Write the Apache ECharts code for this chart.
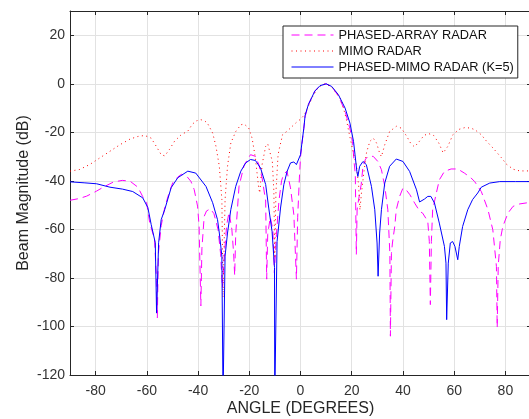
<!DOCTYPE html>
<html>
<head>
<meta charset="utf-8">
<script src="https://cdn.jsdelivr.net/npm/echarts@6/dist/echarts.min.js"></script>
<style>
html,body{margin:0;padding:0;background:#fff;}
#chart{width:529px;height:419px;}
</style>
</head>
<body>
<div id="chart"></div>
<script>
// Series names (legend order)
const seriesNames = ['PHASED-ARRAY RADAR', 'MIMO RADAR', 'PHASED-MIMO RADAR (K=5)'];

// Angle (degrees), beam magnitude (dB)
const phasedArray = [
[-90,-48],[-86.5,-47.3],[-83.5,-46.3],[-79.6,-44.2],[-77,-42.6],[-73.1,-40.5],[-69.6,-39.8],[-66.6,-40.1],[-63.5,-42.6],[-61.6,-46.5],[-60.1,-48.9],[-58.9,-57.2],[-57,-64],[-56.2,-81],[-55.9,-96.5],[-55.5,-70],[-54.4,-58.5],[-53,-51],[-51.7,-46.3],[-49.9,-40.8],[-47.9,-38.4],[-46.5,-37.3],[-44.5,-38],[-42.8,-40.2],[-41.5,-43.6],[-40.2,-50.4],[-39.6,-58.6],[-38.9,-91.5],[-38.5,-68],[-37.6,-54.6],[-36.7,-52.4],[-35.2,-51.5],[-33.8,-53.5],[-32.2,-60],[-31.2,-70],[-30.5,-84],[-29.7,-70],[-28.8,-58],[-27.9,-53],[-26.8,-60],[-26.1,-70],[-25.7,-79],[-25.3,-62],[-24,-42.2],[-22,-33.5],[-19.5,-29.2],[-17.6,-29.9],[-16.3,-33.2],[-15,-38.8],[-13.6,-48.3],[-13.2,-80.5],[-12.8,-62],[-11.8,-55],[-10.8,-60],[-10.2,-78],[-9.4,-62],[-8.4,-48],[-7.4,-40],[-6.6,-37.3],[-5.3,-36],[-3.9,-42.9],[-2.6,-53.9],[-1.6,-80.5],[-1.1,-55],[-0.4,-38],[0,-30.2],[0.6,-24.5],[1.3,-18.3],[1.8,-13.5],[3.1,-8.5],[5.6,-3],[7.6,-0.8],[10,0],[12.2,-1.2],[14.8,-5],[17.4,-11.3],[19.3,-18.5],[20.3,-23.7],[20.9,-31.9],[21.4,-37.3],[21.8,-70.3],[22.1,-52],[22.6,-48.3],[23.7,-41.5],[24.4,-34],[25.4,-31],[26.4,-29.9],[28.4,-29.9],[30.2,-32],[31.6,-35.4],[32.9,-42.2],[34.1,-51.9],[34.9,-70],[35.1,-104],[35.5,-70],[35.9,-65.6],[36.8,-58.8],[37.4,-51.9],[38.7,-46.4],[40,-43],[41.4,-43.9],[42.7,-45.7],[44.6,-49.2],[46.6,-52.6],[47.7,-53.3],[49.7,-56.7],[50.3,-65],[50.7,-91],[51.1,-65],[51.6,-51.9],[52.9,-45.7],[54.2,-39.6],[56.2,-36.1],[58.8,-35.1],[61.4,-35.1],[64,-36.8],[66.6,-38.8],[68,-40.3],[70.6,-44.4],[73.2,-51.9],[75.1,-60.2],[76.5,-75.3],[76.8,-100.5],[77.2,-75],[78,-64.3],[79,-58.8],[81,-53.3],[83,-50.5],[85.6,-49.5],[90,-48.8]
];

const mimo = [
[-90,-36],[-86.2,-35.3],[-82.2,-33.2],[-78.3,-30.5],[-74.4,-27.8],[-70.5,-25.1],[-66.6,-22.8],[-63.5,-21.7],[-60.8,-21.3],[-58.3,-22.4],[-56.3,-25.8],[-54.4,-29.2],[-53,-29.7],[-51.2,-27.1],[-49.2,-23.7],[-46.6,-21],[-44,-19.5],[-42.2,-16.6],[-40.5,-15.2],[-38.9,-14.8],[-37.5,-15.2],[-36.3,-16.3],[-34.3,-20.3],[-33,-25.8],[-31.7,-34],[-30.7,-47.7],[-30.25,-88],[-29.45,-47.7],[-28.5,-34],[-27.2,-24.4],[-25.3,-19.7],[-23.3,-16.9],[-22.2,-16.6],[-21.3,-17.2],[-20.2,-18.3],[-18.9,-22.4],[-17.6,-30.6],[-16.9,-37.4],[-16.3,-43],[-15.9,-45],[-15,-33.3],[-13.6,-25.8],[-12.8,-24.7],[-12.3,-25.1],[-11,-32],[-10.4,-44.4],[-10.05,-72],[-9.6,-45],[-8.8,-30],[-8.5,-27.8],[-7,-21],[-5,-19.3],[-3.5,-17.8],[-1.5,-15.8],[0,-14.6],[1.5,-12.8],[3,-9.4],[4.6,-5.5],[6.6,-2],[8.5,-0.3],[10,0],[12.6,-1.8],[15.9,-6.6],[17.8,-14.1],[19.1,-21],[20.5,-27.8],[21.8,-33.3],[22.7,-42],[23.2,-52],[23.8,-45],[24.8,-36],[25.8,-28.2],[27.1,-23.7],[28.4,-22.4],[29.7,-24.4],[30.9,-28.6],[31.6,-30],[32.9,-25.1],[34.8,-19.7],[37.4,-17.5],[39.4,-18.3],[41.4,-21.5],[43,-24.5],[44.5,-26],[46.2,-24],[48.2,-21.3],[50,-20.5],[52,-21.3],[54,-24.4],[55.7,-28.5],[57.5,-25.8],[59.5,-21],[61.8,-18.8],[64.3,-18],[66.6,-18.3],[68.2,-19],[70.6,-21],[72.6,-23.6],[75.1,-26.4],[78.4,-30.4],[80.4,-33.1],[83,-35.2],[85.6,-35.9],[90,-35.9]
];

const phasedMimo = [
[-90,-40.4],[-84.5,-40.8],[-79.6,-41.2],[-74.4,-42.6],[-69.5,-43.4],[-65.5,-44.4],[-61.6,-47],[-59.6,-51],[-58.3,-58],[-56.7,-65.5],[-56.2,-94.5],[-55.4,-65.5],[-54.4,-56],[-53,-51.8],[-50.5,-42.8],[-47.9,-38.7],[-44,-36],[-40.9,-36.8],[-36.9,-42.3],[-34.3,-49],[-32.4,-56],[-31.7,-61.5],[-30.7,-71],[-30.25,-130],[-29.45,-71],[-28.5,-61.5],[-27.2,-51.8],[-25.3,-42.3],[-23.3,-36],[-21.4,-32.6],[-19.5,-31.2],[-17.6,-31.6],[-15.6,-34.7],[-13.6,-41.5],[-12.4,-51.2],[-11.1,-60.9],[-10.15,-75.7],[-10.05,-130],[-9.15,-65],[-7.8,-51.2],[-6.5,-41.5],[-5.2,-36],[-3.9,-32.6],[-2.6,-32.2],[-1.6,-33.3],[0,-29.2],[0.6,-24],[1.3,-18.3],[1.8,-13],[3.1,-8.5],[5.6,-3],[7.6,-0.8],[10,0],[12.2,-1.1],[14.8,-4.5],[17.4,-10],[19.3,-16.2],[20.7,-23.7],[21.3,-29.3],[22,-36.1],[22.4,-38.2],[23.1,-34],[24.4,-32],[25.7,-33.3],[27.7,-42.3],[29,-51.9],[29.9,-65.6],[30.3,-79.3],[30.9,-61.5],[31.6,-51.9],[32.9,-40.9],[34.8,-34],[37.4,-31],[40,-32],[42.6,-36.1],[45.3,-43.7],[46.5,-48.7],[47.1,-49.1],[48.4,-47.5],[49.7,-46.4],[50.9,-46.4],[52.3,-49.1],[54.2,-57.4],[56.2,-67],[56.8,-73.9],[57.07,-97.2],[57.7,-73.9],[58.5,-65.6],[59.4,-65],[60.3,-67],[61.4,-72.5],[62,-67],[63.3,-58.8],[65.3,-51.9],[67.2,-47.7],[69.2,-45],[70.6,-42.6],[73.9,-40.9],[77.8,-40.3],[84,-40.3],[90,-40.3]
];

const xTitle = 'ANGLE (DEGREES)';
const yTitle = 'Beam Magnitude (dB)';

const FONT = "'Liberation Sans', Arial, Helvetica, sans-serif";
const AX = '#262626';
const GRIDC = '#e2e2e2';

const chart = echarts.init(document.getElementById('chart'), null, {renderer: 'canvas'});

const baseX = {
  type: 'value', min: -90, max: 90, splitNumber: 9,
  axisLine: {show: true, onZero: false, lineStyle: {color: AX, width: 1}},
  axisTick: {show: true, inside: true, length: 4, lineStyle: {color: AX}},
  splitLine: {show: false}
};
const baseY = {
  type: 'value', min: -120, max: 30, interval: 20,
  axisLine: {show: true, onZero: false, lineStyle: {color: AX, width: 1}},
  axisTick: {show: true, inside: true, length: 4, lineStyle: {color: AX}},
  splitLine: {show: false}
};

const option = {
  animation: false,
  backgroundColor: '#fff',
  grid: {left: 70, right: -2, top: 11, bottom: 44, containLabel: false, outerBoundsMode: 'none'},
  legend: {
    orient: 'vertical', left: 283, top: 26,
    padding: [2, 4, 4, 8],
    itemWidth: 42, itemHeight: 14, itemGap: 2,
    backgroundColor: '#fff', borderColor: AX, borderWidth: 1, borderRadius: 0,
    itemStyle: {opacity: 0, borderWidth: 0},
    lineStyle: {width: 1},
    textStyle: {fontSize: 12.8, color: '#111', fontFamily: FONT, lineHeight: 14},
    data: seriesNames
  },
  xAxis: [
    Object.assign({}, baseX, {
      position: 'bottom',
      name: xTitle, nameLocation: 'middle', nameGap: 26, nameMoveOverlap: false,
      nameTextStyle: {fontSize: 16, color: AX, fontFamily: FONT},
      axisLabel: {show: true, margin: 9, fontSize: 14, color: '#333', fontFamily: FONT, showMinLabel: false, showMaxLabel: false},
      splitLine: {show: true, lineStyle: {color: GRIDC, width: 1}}
    }),
    Object.assign({}, baseX, {position: 'top', axisLabel: {show: false}})
  ],
  yAxis: [
    Object.assign({}, baseY, {
      position: 'left',
      name: yTitle, nameLocation: 'middle', nameGap: 38, nameMoveOverlap: false,
      nameTextStyle: {fontSize: 16, color: AX, fontFamily: FONT},
      axisLabel: {show: true, margin: 5, fontSize: 14, color: '#333', fontFamily: FONT, showMaxLabel: false},
      splitLine: {show: true, lineStyle: {color: GRIDC, width: 1}}
    }),
    Object.assign({}, baseY, {position: 'right', axisLabel: {show: false}})
  ],
  series: [
    {
      name: seriesNames[0], type: 'line', data: phasedArray, symbol: 'none', clip: true,
      xAxisIndex: 0, yAxisIndex: 0,
      lineStyle: {color: '#ff00ff', width: 1, type: [8, 5]},
      itemStyle: {color: '#ff00ff'}, z: 3
    },
    {
      name: seriesNames[1], type: 'line', data: mimo, symbol: 'none', clip: true,
      xAxisIndex: 0, yAxisIndex: 0,
      lineStyle: {color: '#ff0000', width: 1, type: [1, 3.5]},
      itemStyle: {color: '#ff0000'}, z: 4
    },
    {
      name: seriesNames[2], type: 'line', data: phasedMimo, symbol: 'none', clip: true,
      xAxisIndex: 0, yAxisIndex: 0,
      lineStyle: {color: '#0000ff', width: 1},
      itemStyle: {color: '#0000ff'}, z: 5
    }
  ]
};
chart.setOption(option);
</script>
</body>
</html>
